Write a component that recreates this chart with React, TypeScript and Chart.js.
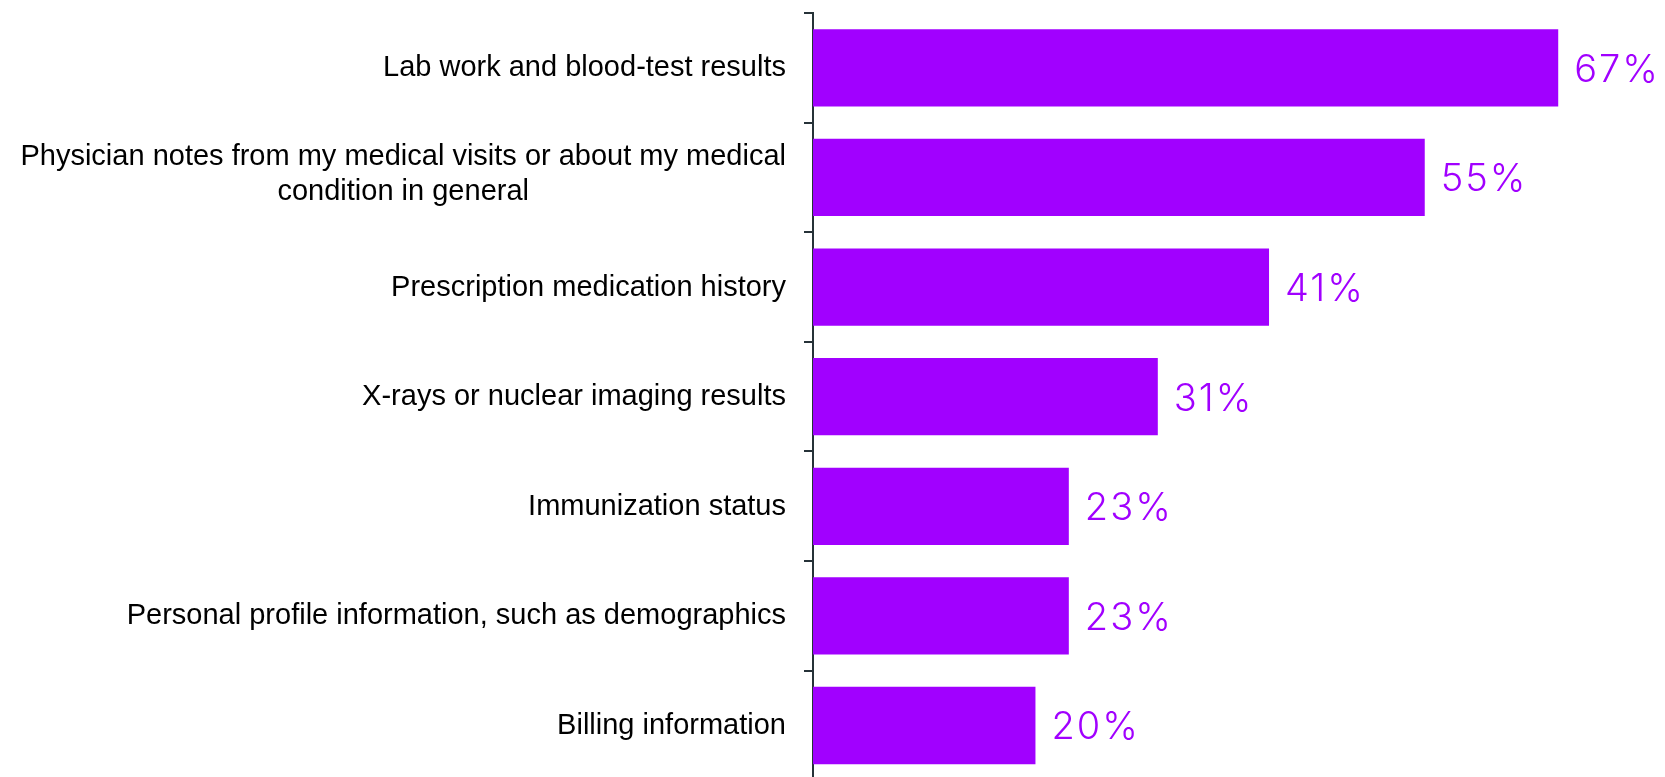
import React, { useEffect, useRef } from "react";
import { Chart, registerables } from "chart.js";

Chart.register(...registerables);

const categories: string[][] = [
  ["Lab work and blood-test results"],
  ["Physician notes from my medical visits or about my medical", "condition in general"],
  ["Prescription medication history"],
  ["X-rays or nuclear imaging results"],
  ["Immunization status"],
  ["Personal profile information, such as demographics"],
  ["Billing information"],
];
const values: number[] = [67, 55, 41, 31, 23, 23, 20];
const valueLabels: string[] = values.map((v) => `${v}%`);

const X_MAX = 76.6;
const BAR_COLOR = "#A100FF";
const AXIS_COLOR = "#263238";

const labelPlugin = {
  id: "customLabels",
  afterDraw(chart: any) {
    const ctx = chart.ctx;
    const yScale = chart.scales.y;
    const xScale = chart.scales.x;
    ctx.save();
    // category labels
    ctx.font = "29px 'Liberation Sans', Arial, sans-serif";
    ctx.fillStyle = "#000000";
    ctx.textBaseline = "alphabetic";
    const rightEdge = 786;
    const lineH = 35;
    categories.forEach((lines, i) => {
      const cy = yScale.getPixelForValue(i);
      const n = lines.length;
      const widths = lines.map((l) => ctx.measureText(l).width);
      const widest = Math.max(...widths);
      lines.forEach((line, k) => {
        const base = cy + 8.5 + (k - (n - 1) / 2) * lineH - (n - 1) * 3.3;
        if (n === 1) {
          ctx.textAlign = "right";
          ctx.fillText(line, rightEdge, base);
        } else {
          ctx.textAlign = "center";
          ctx.fillText(line, rightEdge - widest / 2, base);
        }
      });
    });
    // value labels
    ctx.font = "300 38px Inter, 'Open Sans', sans-serif";
    try {
      (ctx as any).letterSpacing = "2px";
    } catch (e) {}
    ctx.fillStyle = BAR_COLOR;
    ctx.textAlign = "left";
    values.forEach((v, i) => {
      const cy = yScale.getPixelForValue(i);
      const x = xScale.getPixelForValue(v);
      ctx.fillText(valueLabels[i], x + 16, cy + 14);
    });
    ctx.restore();
  },
};

export default function App() {
  const ref = useRef<HTMLCanvasElement | null>(null);
  useEffect(() => {
    if (!ref.current) return;
    const chart = new Chart(ref.current, {
      type: "bar",
      data: {
        labels: categories.map((c) => c.join(" ")),
        datasets: [
          {
            data: values,
            backgroundColor: BAR_COLOR,
            borderWidth: 0,
            barPercentage: 0.705,
            categoryPercentage: 1,
          },
        ],
      },
      options: {
        indexAxis: "y",
        animation: false,
        responsive: false,
        maintainAspectRatio: false,
        layout: { padding: { top: 13, bottom: 9.7, left: 0, right: 0 } },
        plugins: {
          legend: { display: false },
          tooltip: { enabled: false },
          title: { display: false },
        },
        scales: {
          x: {
            display: false,
            min: 0,
            max: X_MAX,
          },
          y: {
            type: "category",
            ticks: { display: false },
            grid: {
              display: true,
              offset: true,
              drawOnChartArea: false,
              drawTicks: true,
              tickLength: 9,
              color: AXIS_COLOR,
              lineWidth: 2,
            },
            border: { display: true, color: AXIS_COLOR, width: 2 },
            afterFit: (scale: any) => {
              scale.width = 813;
            },
          },
        },
      },
      plugins: [labelPlugin],
    });
    return () => chart.destroy();
  }, []);
  return (
    <div
      style={{
        position: "fixed",
        top: 0,
        left: 0,
        width: 1665,
        height: 777,
        overflow: "hidden",
        background: "#ffffff",
      }}
    >
      <canvas ref={ref} width={1665} height={790} style={{ display: "block", width: 1665, height: 790 }} />
    </div>
  );
}
